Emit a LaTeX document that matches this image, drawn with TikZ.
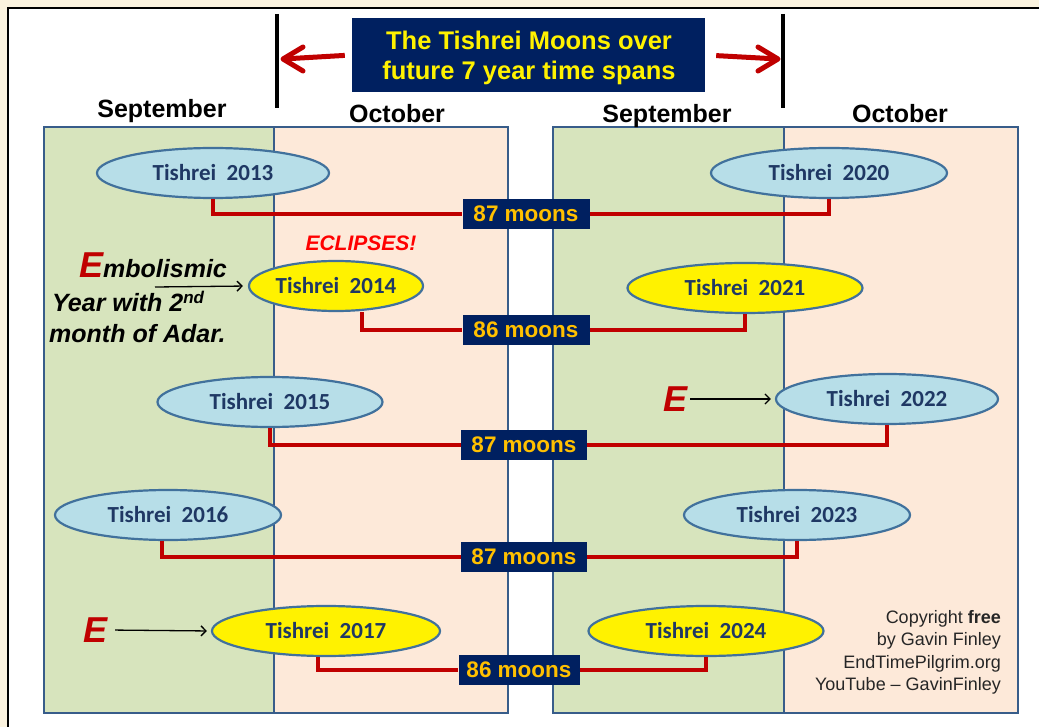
\documentclass[tikz,border=0pt]{standalone}
\usepackage{fontspec}
\setmainfont{Liberation Sans}
\newfontfamily\calfont{Carlito}
\usepackage{xcolor}
\usetikzlibrary{positioning,arrows.meta,shapes.geometric}

\definecolor{cream}{HTML}{FBF3DF}
\definecolor{sepgreen}{HTML}{D7E4BD}
\definecolor{octpeach}{HTML}{FDE9D9}
\definecolor{panelblue}{HTML}{385D8A}
\definecolor{ellblue}{HTML}{41719C}
\definecolor{skyblue}{HTML}{B7DEE8}
\definecolor{navy}{HTML}{002060}
\definecolor{navytxt}{HTML}{1F3864}
\definecolor{moongold}{HTML}{FFC000}
\definecolor{linkred}{HTML}{C00000}
\newcommand{\pxfont}[1]{\fontsize{#1}{#1}\selectfont}

\begin{document}
\begin{tikzpicture}[
    x=1pt, y=-1pt,
    month/.style={font=\bfseries\pxfont{25}, inner sep=0, anchor=base},
    tishrei/.style={ellipse, draw=ellblue, line width=2.2pt, inner sep=0,
                    minimum height=50pt, text=navytxt, font=\calfont\bfseries\pxfont{23}},
    bluemoon/.style={tishrei, fill=skyblue},
    goldmoon/.style={tishrei, fill=yellow},
    moons/.style={fill=navy, text=moongold, font=\bfseries\pxfont{22.5}, inner sep=0,
                  minimum width=127pt, minimum height=30pt},
    link/.style={draw=linkred, line width=3.5pt},
    emb/.style={font=\bfseries\itshape\pxfont{25}, inner sep=0, anchor=base west},
    emark/.style={font=\bfseries\itshape\pxfont{36}, text=linkred, inner sep=0},
    pointer/.style={-{Straight Barb[length=5pt,width=10pt]}, line width=1.3pt},
    titlearrow/.style={draw=linkred, line width=5pt},
    chevron/.style={draw=linkred, line width=5pt, line cap=round, line join=round}
]
\useasboundingbox (0,0) rectangle (1039,727);
\clip (0,0) rectangle (1039,727);
\fill[cream] (0,0) rectangle (1039,727);
\draw[line width=2pt, fill=white] (8,8) rectangle (1060,750);

% month panels
\fill[sepgreen] (44,127) rectangle (274,713);
\fill[octpeach] (274,127) rectangle (508,713);
\fill[sepgreen] (553,127) rectangle (784,713);
\fill[octpeach] (784,127) rectangle (1018,713);
\draw[panelblue, line width=2.5pt] (44,127) rectangle (508,713) (274,127) -- (274,713);
\draw[panelblue, line width=2.5pt] (553,127) rectangle (1018,713) (784,127) -- (784,713);

\node[month] (sepL) at (162,118) {September};
\node[month] (octL) at (397,123) {October};
\node[month] (sepR) at (667,123) {September};
\node[month] (octR) at (900,123) {October};

% title and span bars
\draw[line width=4pt] (277,14) -- (277,108);
\draw[line width=4pt] (783,14) -- (783,108);
\coordinate (barL) at (283,59);
\coordinate (barR) at (778,59);
\node[fill=navy, minimum width=353pt, minimum height=74pt, inner sep=0] (title) at (528.5,55) {};
\node[text=yellow, inner sep=0, align=center, font=\bfseries\fontsize{25.5}{30}\selectfont]
      (titletext) at (529,58) {The Tishrei Moons over\\future 7 year time spans};
\draw[titlearrow, shorten <=7pt] (title.west) -- (barL);
\draw[titlearrow, shorten <=11pt] (title.east) -- (barR);
\draw[chevron] ([shift={(20,-12)}]barL) -- (barL) -- ([shift={(20,12)}]barL);
\draw[chevron] ([shift={(-20,-12)}]barR) -- (barR) -- ([shift={(-20,12)}]barR);

% Tishrei moons
\node[bluemoon, minimum width=232pt] (t13) at (213,173) {Tishrei\ \ 2013};
\node[bluemoon, minimum width=236pt] (t20) at (829,173) {Tishrei\ \ 2020};
\node[goldmoon, minimum width=174pt] (t14) at (336,286) {Tishrei\ \ 2014};
\node[goldmoon, minimum width=235pt] (t21) at (745,288) {Tishrei\ \ 2021};
\node[bluemoon, minimum width=225pt] (t15) at (270,402) {Tishrei\ \ 2015};
\node[bluemoon, minimum width=222pt] (t22) at (887,399) {Tishrei\ \ 2022};
\node[bluemoon, minimum width=226pt] (t16) at (168,515) {Tishrei\ \ 2016};
\node[bluemoon, minimum width=226pt] (t23) at (797,515) {Tishrei\ \ 2023};
\node[goldmoon, minimum width=228pt] (t17) at (326,631) {Tishrei\ \ 2017};
\node[goldmoon, minimum width=235pt] (t24) at (706,631) {Tishrei\ \ 2024};

\node[moons] (m1) at (526,214) {87 moons};
\node[moons] (m2) at (526,330) {86 moons};
\node[moons, minimum width=126pt] (m3) at (524,445) {87 moons};
\node[moons, minimum width=126pt] (m4) at (524,557) {87 moons};
\node[moons, minimum width=121pt] (m5) at (519,670) {86 moons};

\draw[link] (t13.south) |- (m1.west);
\draw[link] (m1.east) -| (t20.south);
\draw[link] ([xshift=26pt]t14.south) |- (m2.west);
\draw[link] (m2.east) -| (t21.south);
\draw[link] (t15.south) |- (m3.west);
\draw[link] (m3.east) -| (t22.south);
\draw[link] ([xshift=-6pt]t16.south) |- (m4.west);
\draw[link] (m4.east) -| (t23.south);
\draw[link] ([xshift=-8pt]t17.south) |- (m5.west);
\draw[link] (m5.east) -| (t24.south);

% embolismic notes
\node[font=\bfseries\itshape\pxfont{21}, text=red, inner sep=0, anchor=base] (eclipses) at (361,251) {ECLIPSES!};
\node[emb] (emb1) at (79,278) {\textcolor{linkred}{\pxfont{36}E}mbolismic};
\node[emb] (emb2) at (52,312) {Year with 2{\pxfont{17}\raisebox{8pt}{nd}}};
\node[emb] (emb3) at (49,343) {month of Adar.};
\coordinate (embtail) at (155,287);
\draw[pointer, shorten >=5pt] (embtail) -- (t14.west);

\node[emark] (e22) at (675,399) {E};
\draw[pointer, shorten <=3pt, shorten >=4pt] (e22.east) -- (t22.west);
\node[emark] (e17) at (96,630) {E};
\draw[pointer, shorten <=7pt, shorten >=4pt] (e17.east) -- (t17.west);

\node[anchor=north east, align=right, inner sep=0, text=black!85,
      font=\fontsize{18}{22.5}\selectfont] (credit) at (1001,610)
      {Copyright \textbf{free}\\by Gavin Finley\\EndTimePilgrim.org\\YouTube -- GavinFinley};
\end{tikzpicture}
\end{document}
